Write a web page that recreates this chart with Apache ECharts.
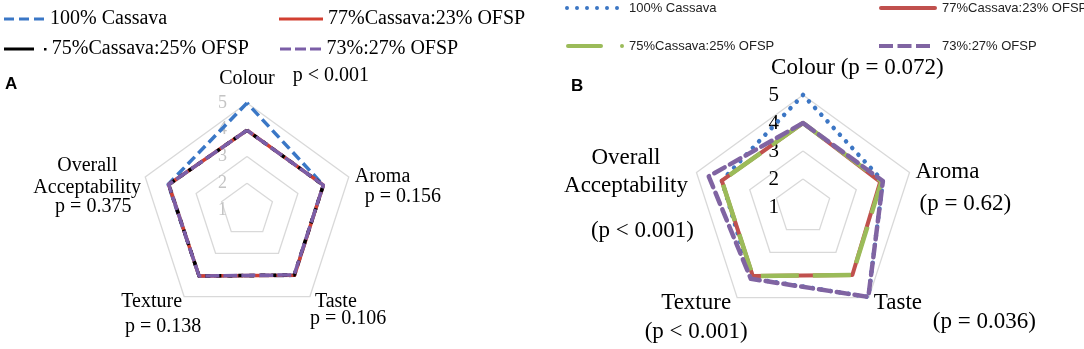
<!DOCTYPE html>
<html>
<head>
<meta charset="utf-8">
<script src="https://cdn.jsdelivr.net/npm/echarts@6.0.0/dist/echarts.min.js"></script>
<style>
  html, body { margin: 0; padding: 0; background: #fff; }
  #main { width: 1084px; height: 349px; }
</style>
</head>
<body>
<div id="main"></div>
<script>
// attributes, clockwise from the top as in the figure
var categories = ['Colour', 'Aroma', 'Taste', 'Texture', 'Overall Acceptability'];
var pValuesA = ['p < 0.001', 'p = 0.156', 'p = 0.106', 'p = 0.138', 'p = 0.375'];
var pValuesB = ['(p = 0.072)', '(p = 0.62)', '(p = 0.036)', '(p < 0.001)', '(p < 0.001)'];
var seriesNames = ['100% Cassava', '77%Cassava:23% OFSP', '75%Cassava:25% OFSP', '73%:27% OFSP'];
var scaleMin = 1, scaleMax = 5;

// panel A mean scores (Colour, Aroma, Taste, Texture, Overall)
var a100 = [5.0, 4.0, 4.02, 4.05, 4.1];
var a77 = [3.98, 4.0, 4.02, 4.05, 4.08];
var a75 = [3.98, 4.0, 4.0, 4.05, 4.08];
var a73 = [3.98, 4.0, 4.0, 4.05, 4.08];

// panel B mean scores
var b100 = [5.0, 4.0, 4.97, 4.15, 4.05];
var b77 = [4.0, 3.9, 4.0, 4.05, 4.05];
var b75 = [4.0, 3.95, 4.0, 4.05, 4.05];
var b73 = [4.0, 4.0, 4.97, 4.17, 4.54];

var SERIF = 'Liberation Serif';
var SANS = 'Liberation Sans';

// echarts radar runs counter-clockwise, the figure runs clockwise
var order = [0, 4, 3, 2, 1];
function reorder(arr) { return order.map(function (i) { return arr[i]; }); }

var ctx = document.createElement('canvas').getContext('2d');
function textW(s, size, fam) { ctx.font = size + 'px "' + fam + '"'; return ctx.measureText(s).width; }

function tok(size, lh, extra) {
    var t = { fontFamily: SERIF, fontSize: size, color: '#000', lineHeight: lh };
    for (var k in extra) t[k] = extra[k];
    return t;
}

// indicator names for panel A
function indicatorsA() {
    var ov = categories[4].split(' ');
    var padC = textW(pValuesA[0], 20, SERIF) + 18;
    var list = [
        { name: categories[0] + '{p|' + pValuesA[0] + '}',
          nameTextStyle: { align: 'center', verticalAlign: 'bottom', padding: [0, 0, 5, padC],
            rich: { p: tok(20, 20, { padding: [0, 0, 6, 18] }) } } },
        { name: '{n|' + categories[1] + '}\n{p|' + pValuesA[1] + '}',
          nameTextStyle: { align: 'left', verticalAlign: 'middle', padding: [20, 0, 0, 6],
            rich: { n: tok(20, 20), p: tok(20, 20, { padding: [0, 0, 0, 10] }) } } },
        { name: '{n|' + categories[2] + '}\n{p|' + pValuesA[2] + '}',
          nameTextStyle: { align: 'left', verticalAlign: 'middle', padding: [27, 0, 0, 0],
            rich: { n: tok(20, 17, { padding: [0, 0, 0, 5] }), p: tok(20, 17) } } },
        { name: '{n|' + categories[3] + '}\n{p|' + pValuesA[3] + '}',
          nameTextStyle: { align: 'center', verticalAlign: 'middle', padding: [35, 42, 0, 0],
            rich: { n: tok(20, 25, { padding: [0, 23, 0, 0] }), p: tok(20, 25) } } },
        { name: '{o|' + ov[0] + '}\n{o|' + ov[1] + '}\n{q|' + pValuesA[4] + '}',
          nameTextStyle: { align: 'center', verticalAlign: 'middle', padding: [16, 116, 0, 0],
            rich: { o: tok(20, 22), q: tok(20, 16, { padding: [0, 0, 0, 12] }) } } }
    ];
    list.forEach(function (d) { d.min = scaleMin; d.max = scaleMax; });
    list[0].axisLabel = { show: true };
    return reorder(list);
}

// indicator names for panel B
function indicatorsB() {
    var ov = categories[4].split(' ');
    var padC = textW(' ' + pValuesB[0], 23, SERIF);
    var list = [
        { name: categories[0] + ' ' + pValuesB[0],
          nameTextStyle: { align: 'center', verticalAlign: 'bottom', padding: [0, 0, 5, padC] } },
        { name: '{n|' + categories[1] + '}\n{p|' + pValuesB[1] + '}',
          nameTextStyle: { align: 'left', verticalAlign: 'middle', padding: [40, 0, 0, 6],
            rich: { n: tok(23, 23), p: tok(23, 40, { padding: [0, 0, 0, 4] }) } } },
        { name: '{n|' + categories[2] + '}\n{p|' + pValuesB[2] + '}',
          nameTextStyle: { align: 'left', verticalAlign: 'middle', padding: [25, 0, 0, 0],
            rich: { n: tok(23, 23, { padding: [0, 0, 0, 5] }), p: tok(23, 15, { padding: [0, 0, 0, 64] }) } } },
        { name: '{n|' + categories[3] + '}\n{p|' + pValuesB[3] + '}',
          nameTextStyle: { align: 'center', verticalAlign: 'middle', padding: [45, 82, 0, 0],
            rich: { n: tok(23, 23), p: tok(23, 35) } } },
        { name: '{o|' + ov[0] + '}\n{o|' + ov[1] + '}\n{q|' + pValuesB[4] + '}',
          nameTextStyle: { align: 'center', verticalAlign: 'middle', padding: [62, 141, 0, 0],
            rich: { o: tok(23, 28), q: tok(23, 62, { padding: [0, 0, 0, 33] }) } } }
    ];
    list.forEach(function (d) { d.min = scaleMin; d.max = scaleMax; });
    list[0].axisLabel = { show: true };
    return reorder(list);
}

function radarBase(center, radius, nameSize, labelStyle) {
    return {
        center: center,
        radius: radius,
        startAngle: 90,
        shape: 'polygon',
        splitNumber: scaleMax - scaleMin,
        axisNameGap: 0,
        axisName: { color: '#000', fontFamily: SERIF, fontSize: nameSize, lineHeight: nameSize },
        axisLine: { show: false },
        axisTick: { show: false },
        axisLabel: labelStyle,
        splitLine: { lineStyle: { color: '#d9d9d9', width: 1.3 } },
        splitArea: { show: false }
    };
}

var radarA = radarBase([247, 210], 107, 20,
    { show: false, color: '#c4c4c4', fontFamily: SERIF, fontSize: 18, margin: 20 });
radarA.indicator = indicatorsA();
var radarB = radarBase([803, 207], 112, 23,
    { show: false, color: '#000', fontFamily: SERIF, fontSize: 21, margin: 24 });
radarB.indicator = indicatorsB();

function radarSeries(idx, name, values, lineStyle) {
    return {
        type: 'radar',
        radarIndex: idx,
        name: name,
        symbol: 'none',
        silent: true,
        lineStyle: lineStyle,
        itemStyle: { color: lineStyle.color },
        data: [{ name: name, value: reorder(values) }]
    };
}

// legend icons
var dot = function (cx, cy, r) {
    return 'M' + (cx - r) + ',' + cy + 'a' + r + ',' + r + ' 0 1,0 ' + (2 * r) + ',0a' + r + ',' + r + ' 0 1,0 ' + (-2 * r) + ',0z';
};
var iconA1 = 'path://M0,0h10v3h-10zM15,0h10v3h-10zM30,0h10v3h-10z';
var iconA2 = 'path://M0,0h44v3h-44z';
var iconA3 = 'path://M0,0h30v3h-30zM40,0.5h2.5v2.5h-2.5z';
var iconA4 = 'path://M0,0h11v3h-11zM15,0h11v3h-11zM30,0h11v3h-11z';
var iconB1 = 'path://' + [2, 12, 22, 32, 42, 52].map(function (c) { return dot(c, 2, 2); }).join('');
var iconB2 = 'path://M2,0h54a2,2 0 0,1 0,4h-54a2,2 0 0,1 0,-4z';
var iconB3 = 'path://M2,0h33a2,2 0 0,1 0,4h-33a2,2 0 0,1 0,-4z' + dot(56, 2, 2);
var iconB4 = 'path://M0,0h14v4h-14zM18.5,0h14v4h-14zM37,0h14v4h-14z';

var legendFontA = { fontFamily: SERIF, fontSize: 20, color: '#000', lineHeight: 20 };
var legendFontB = { fontFamily: SANS, fontSize: 13, color: '#222', lineHeight: 14 };

function legend(name, icon, color, left, top, w, h, font, padLeft) {
    var ts = {};
    for (var k in font) ts[k] = font[k];
    ts.padding = [0, 0, 0, padLeft || 0];
    return {
        left: left, top: top, padding: 0, itemWidth: w, itemHeight: h,
        selectedMode: false,
        textStyle: ts,
        data: [{ name: name, icon: icon, itemStyle: { color: color, borderWidth: 0 } }]
    };
}

var col = {
    aBlue: '#3a77c6', aRed: '#d23f31', aBlack: '#000000', aPurple: '#7b5ea7',
    bBlue: '#3c76c4', bRed: '#c0504d', bGreen: '#9bbb59', bPurple: '#8064a2'
};

var chart = echarts.init(document.getElementById('main'));
var option = {
    animation: false,
    backgroundColor: '#fff',
    title: [
        { text: 'A', left: 5, top: 76, padding: 0, textStyle: { fontFamily: SANS, fontWeight: 'bold', fontSize: 17, color: '#000' } },
        { text: 'B', left: 571, top: 78, padding: 0, textStyle: { fontFamily: SANS, fontWeight: 'bold', fontSize: 17, color: '#000' } }
    ],
    legend: [
        legend(seriesNames[0], iconA1, col.aBlue, 4, 9, 42, 3, legendFontA),
        legend(seriesNames[1], iconA2, col.aRed, 279, 9, 44, 3, legendFontA),
        legend(seriesNames[2], iconA3, col.aBlack, 4, 39, 43, 3, legendFontA),
        legend(seriesNames[3], iconA4, col.aPurple, 280, 39, 42, 3, legendFontA),
        legend(seriesNames[0], iconB1, col.bBlue, 565, 1, 54, 4, legendFontB, 5),
        legend(seriesNames[1], iconB2, col.bRed, 879, 1, 58, 4, legendFontB),
        legend(seriesNames[2], iconB3, col.bGreen, 566, 39, 58, 4, legendFontB),
        legend(seriesNames[3], iconB4, col.bPurple, 879, 39, 51, 4, legendFontB, 7)
    ],
    radar: [radarA, radarB],
    series: [
        radarSeries(0, seriesNames[0], a100, { color: col.aBlue, width: 3.5, type: [10, 5] }),
        radarSeries(0, seriesNames[1], a77, { color: col.aRed, width: 3.5, type: 'solid' }),
        radarSeries(0, seriesNames[2], a75, { color: col.aBlack, width: 3.5, type: [5, 6] }),
        radarSeries(0, seriesNames[3], a73, { color: col.aPurple, width: 3.5, type: [14, 4] }),
        radarSeries(1, seriesNames[0], b100, { color: col.bBlue, width: 4.5, type: [0.1, 9], cap: 'round' }),
        radarSeries(1, seriesNames[1], b77, { color: col.bRed, width: 4, type: 'solid' }),
        radarSeries(1, seriesNames[2], b75, { color: col.bGreen, width: 4.5, type: [38, 14] }),
        radarSeries(1, seriesNames[3], b73, { color: col.bPurple, width: 4.5, type: [12, 6], cap: 'round' })
    ]
};
chart.setOption(option);
</script>
</body>
</html>
